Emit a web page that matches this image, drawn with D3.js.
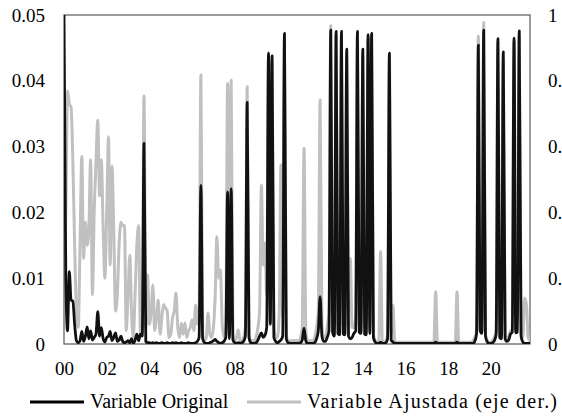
<!DOCTYPE html>
<html>
<head>
<meta charset="utf-8">
<script src="https://cdn.jsdelivr.net/npm/d3@7"></script>
<style>
  body { margin: 0; background: #fff; }
</style>
</head>
<body>
<script>
// monthly series, Jan 2000 .. Nov 2021
const FONT = "'Liberation Serif', serif";

// Variable Original (left axis)
const original = [
  0.050, 0.010, 0.002, 0.011, 0.0067, 0.0065, 0.003, 0.0005, 0.0002, 0.0005, 0.0019, 0.0004,
  0.0012, 0.0026, 0.0008, 0.0020, 0.0006, 0.0010, 0.0015, 0.0049, 0.0012, 0.0025, 0.0008, 0.0003,
  0.0010, 0.0012, 0.0019, 0.0005, 0.0010, 0.0017, 0.0004, 0.0006, 0.0012, 0.0004, 0.0002, 0.0003,
  0.0005, 0.0002, 0.0008, 0.0001, 0.0006, 0.0015, 0.0005, 0.0015, 0.0012, 0.0305, 0.0004, 0.0002,
  0.0002, 0.0001, 0.0002, 0.0001, 0.0002, 0.0001, 0.0001, 0.0002, 0.0001, 0.0001, 0.0002, 0.0001,
  0.0001, 0.0002, 0.0001, 0.0002, 0.0001, 0.0001, 0.0002, 0.0001, 0.0001, 0.0001, 0.0002, 0.0001,
  0.0001, 0.0001, 0.0002, 0.0004, 0.0010, 0.0241, 0.0008, 0.0002, 0.0001, 0.0001, 0.0002, 0.0003,
  0.0005, 0.0007, 0.0004, 0.0002, 0.0001, 0.0002, 0.0004, 0.0010, 0.0231, 0.0008, 0.0236, 0.0006,
  0.0002, 0.0001, 0.0002, 0.0001, 0.0002, 0.0004, 0.0012, 0.0367, 0.0010, 0.0002, 0.0001, 0.0001,
  0.0002, 0.0006, 0.0012, 0.0017, 0.0010, 0.0013, 0.0025, 0.0442, 0.0030, 0.0438, 0.0010, 0.0004,
  0.0002, 0.0004, 0.0006, 0.0012, 0.0472, 0.0008, 0.0002, 0.0001, 0.0001, 0.0001, 0.0001, 0.0001,
  0.0001, 0.0002, 0.0006, 0.0024, 0.0005, 0.0001, 0.0001, 0.0001, 0.0001, 0.0002, 0.0008, 0.0020,
  0.0072, 0.0012, 0.0004, 0.0004, 0.0010, 0.0020, 0.0477, 0.0018, 0.0012, 0.0475, 0.0016, 0.0014,
  0.0475, 0.0015, 0.0014, 0.0448, 0.0012, 0.0008, 0.0010, 0.0016, 0.0020, 0.0475, 0.0018, 0.0016,
  0.0448, 0.0015, 0.0014, 0.0470, 0.0016, 0.0472, 0.0010, 0.0003, 0.0001, 0.0001, 0.0003, 0.0001,
  0.0001, 0.0002, 0.0008, 0.0442, 0.0006, 0.0003, 0.0001, 0.0001, 0.0001, 0.0001, 0.0001, 0.0001,
  0.0001, 0.0001, 0.0001, 0.0001, 0.0001, 0.0001, 0.0001, 0.0001, 0.0001, 0.0001, 0.0001, 0.0001,
  0.0001, 0.0001, 0.0001, 0.0001, 0.0001, 0.0003, 0.0001, 0.0001, 0.0001, 0.0001, 0.0001, 0.0001,
  0.0001, 0.0001, 0.0001, 0.0001, 0.0001, 0.0003, 0.0001, 0.0001, 0.0001, 0.0001, 0.0001, 0.0001,
  0.0001, 0.0001, 0.0001, 0.0004, 0.0015, 0.0454, 0.0020, 0.0016, 0.0477, 0.0012, 0.0003, 0.0001,
  0.0001, 0.0002, 0.0005, 0.0015, 0.0464, 0.0010, 0.0008, 0.0444, 0.0008, 0.0004, 0.0006, 0.0015,
  0.0018, 0.0465, 0.0017, 0.0018, 0.0476, 0.0012, 0.0003, 0.0001, 0.0001, 0.0001, 0.0001
];

// Variable Ajustada (right axis)
const adjusted = [
  0.30, 0.40, 0.77, 0.73, 0.72, 0.55, 0.30, 0.10, 0.05, 0.30, 0.57, 0.26,
  0.37, 0.30, 0.35, 0.56, 0.15, 0.40, 0.55, 0.68, 0.45, 0.56, 0.35, 0.20,
  0.40, 0.63, 0.24, 0.54, 0.35, 0.10, 0.15, 0.30, 0.37, 0.36, 0.36, 0.04,
  0.15, 0.27, 0.10, 0.02, 0.15, 0.30, 0.36, 0.03, 0.05, 0.754, 0.05, 0.21,
  0.06, 0.10, 0.179, 0.04, 0.08, 0.134, 0.03, 0.08, 0.12, 0.11, 0.10, 0.02,
  0.03, 0.08, 0.10, 0.155, 0.05, 0.02, 0.063, 0.03, 0.064, 0.02, 0.04, 0.05,
  0.073, 0.04, 0.118, 0.06, 0.10, 0.818, 0.03, 0.01, 0.02, 0.094, 0.03, 0.02,
  0.05, 0.15, 0.326, 0.20, 0.225, 0.06, 0.02, 0.05, 0.792, 0.03, 0.802, 0.03,
  0.01, 0.02, 0.043, 0.01, 0.01, 0.02, 0.05, 0.782, 0.03, 0.01, 0.01, 0.01,
  0.02, 0.05, 0.10, 0.483, 0.24, 0.307, 0.15, 0.87, 0.10, 0.86, 0.05, 0.02,
  0.02, 0.10, 0.544, 0.08, 0.93, 0.03, 0.01, 0.01, 0.01, 0.01, 0.01, 0.01,
  0.01, 0.02, 0.05, 0.595, 0.04, 0.01, 0.01, 0.01, 0.01, 0.02, 0.05, 0.10,
  0.742, 0.06, 0.02, 0.02, 0.05, 0.10, 0.967, 0.08, 0.06, 0.94, 0.06, 0.05,
  0.94, 0.06, 0.05, 0.88, 0.10, 0.26, 0.05, 0.05, 0.08, 0.94, 0.05, 0.06,
  0.88, 0.05, 0.06, 0.93, 0.05, 0.93, 0.03, 0.01, 0.005, 0.01, 0.281, 0.01,
  0.005, 0.01, 0.03, 0.87, 0.03, 0.118, 0.01, 0.005, 0.005, 0.005, 0.005, 0.005,
  0.005, 0.005, 0.005, 0.005, 0.005, 0.005, 0.005, 0.005, 0.005, 0.005, 0.005, 0.005,
  0.005, 0.005, 0.005, 0.005, 0.005, 0.159, 0.005, 0.005, 0.005, 0.005, 0.005, 0.005,
  0.005, 0.005, 0.005, 0.005, 0.005, 0.159, 0.005, 0.005, 0.005, 0.005, 0.005, 0.005,
  0.005, 0.005, 0.01, 0.02, 0.04, 0.936, 0.04, 0.04, 0.977, 0.03, 0.01, 0.005,
  0.005, 0.01, 0.02, 0.04, 0.92, 0.03, 0.03, 0.87, 0.03, 0.02, 0.02, 0.04,
  0.04, 0.92, 0.04, 0.04, 0.94, 0.03, 0.02, 0.14, 0.12, 0.02, 0.01
];

const leftTicks = [0, 0.01, 0.02, 0.03, 0.04, 0.05];
const rightTicks = [0, 0.2, 0.4, 0.6, 0.8, 1];
const seriesNames = ["Variable Original", "Variable Ajustada (eje der.)"];

const width = 562, height = 419;
const margin = {top: 15, right: 32, bottom: 75, left: 64};

const dates = original.map((d, i) => new Date(2000, i, 1));
const dataOrig = original.map((v, i) => ({date: dates[i], v: v}));
const dataAdj = adjusted.map((v, i) => ({date: dates[i], v: v}));

const svg = d3.select("body").append("svg")
    .attr("width", width)
    .attr("height", height);

const xscale = d3.scaleTime()
    .domain([dates[0], dates[dates.length - 1]])
    .range([margin.left, width - margin.right]);

const yleft = d3.scaleLinear()
    .domain([0, 0.05])
    .range([height - margin.bottom, margin.top]);

const yright = d3.scaleLinear()
    .domain([0, 1])
    .range([height - margin.bottom, margin.top]);

svg.append("clipPath").attr("id", "plot")
  .append("rect")
    .attr("x", margin.left)
    .attr("y", margin.top - 2)
    .attr("width", width - margin.left - margin.right)
    .attr("height", height - margin.top - margin.bottom + 2);

// axes: only the labels, no tick marks
const fmtLeft = d => d === 0 ? "0" : d3.format(".2f")(d);
const yaxisL = d3.axisLeft(yleft).tickValues(leftTicks).tickFormat(fmtLeft).tickSize(0).tickPadding(19);
const yaxisR = d3.axisRight(yright).tickValues(rightTicks).tickFormat(d => String(d)).tickSize(0).tickPadding(18);
const xaxis = d3.axisBottom(xscale)
    .ticks(d3.timeYear.every(2))
    .tickFormat(d3.timeFormat("%y"))
    .tickSize(0)
    .tickPadding(18);

function styleAxis(g) {
  g.attr("font-family", FONT).attr("font-size", 19);
  g.select(".domain").remove();
  g.selectAll("text").attr("fill", "#000");
}

svg.append("g")
    .attr("transform", `translate(${margin.left},0)`)
    .call(yaxisL).call(styleAxis);

svg.append("g")
    .attr("transform", `translate(${width - margin.right},0)`)
    .call(yaxisR).call(styleAxis);

svg.append("g")
    .attr("transform", `translate(0,${height - margin.bottom})`)
    .call(xaxis).call(styleAxis);

// plot area border
svg.append("rect")
    .attr("x", margin.left)
    .attr("y", margin.top)
    .attr("width", width - margin.left - margin.right)
    .attr("height", height - margin.top - margin.bottom)
    .attr("fill", "none")
    .attr("stroke", "#595959")
    .attr("stroke-width", 1.2);

const lineAdj = d3.line()
    .x(d => xscale(d.date))
    .y(d => yright(d.v))
    .curve(d3.curveMonotoneX);

const lineOrig = d3.line()
    .x(d => xscale(d.date))
    .y(d => yleft(d.v))
    .curve(d3.curveMonotoneX);

const plot = svg.append("g").attr("clip-path", "url(#plot)");

plot.append("path")
    .datum(dataAdj)
    .attr("fill", "none")
    .attr("stroke", "#c0c0c0")
    .attr("stroke-width", 3)
    .attr("stroke-linejoin", "round")
    .attr("d", lineAdj);

plot.append("path")
    .datum(dataOrig)
    .attr("fill", "none")
    .attr("stroke", "#111")
    .attr("stroke-width", 2.8)
    .attr("stroke-linejoin", "round")
    .attr("d", lineOrig);

// legend
const legend = svg.append("g").attr("font-family", FONT).attr("font-size", 20);
const legendItems = [
  {name: seriesNames[0], color: "#000", x: 30, len: null},
  {name: seriesNames[1], color: "#c0c0c0", x: 247, len: 250}
];
legendItems.forEach(it => {
  legend.append("line")
      .attr("x1", it.x).attr("x2", it.x + 54)
      .attr("y1", 402).attr("y2", 402)
      .attr("stroke", it.color)
      .attr("stroke-width", 3);
  const t = legend.append("text")
      .attr("x", it.x + 60)
      .attr("y", 408)
      .text(it.name);
  if (it.len) t.attr("textLength", it.len).attr("lengthAdjust", "spacing");
});
</script>
</body>
</html>
